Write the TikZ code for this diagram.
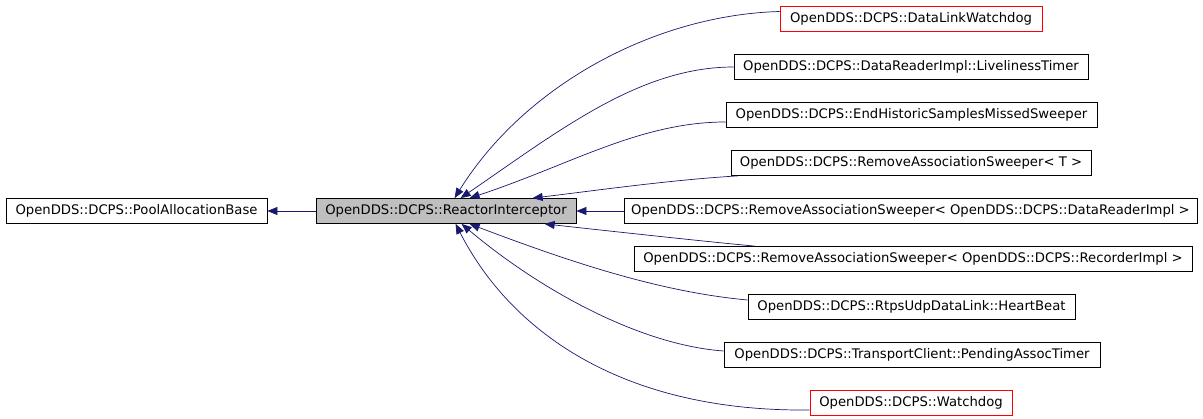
\documentclass[tikz,border=0pt]{standalone}
\usepackage{fontspec}
\setmainfont{DejaVu Sans}
\usetikzlibrary{arrows.meta,positioning}
\definecolor{edgeblue}{HTML}{191970}

\begin{document}
\begin{tikzpicture}[x=1pt,y=-1pt,
  cls/.style={draw,inner sep=0pt,minimum height=25pt,line width=0.8pt,font=\fontsize{13.2}{15}\selectfont},
  inh/.style={draw=edgeblue,line width=0.7pt,{Triangle[length=10pt,width=8pt,fill=edgeblue]}-}] %pixel coordinates, y downwards

\fill[white] (0,0) rectangle (1203,419);
\useasboundingbox (0,0) rectangle (1203,419);

\node (pab) at (136.5,211) [cls,minimum width=261pt] {OpenDDS::DCPS::PoolAllocationBase};
\node (ri) at (446,211) [cls,minimum width=260pt,fill=gray!50] {OpenDDS::DCPS::ReactorInterceptor};
\node (dlw) at (911,18.5) [cls,minimum width=262pt,draw=red] {OpenDDS::DCPS::DataLinkWatchdog};
\node (lt) at (911,67) [cls,minimum width=354pt] {OpenDDS::DCPS::DataReaderImpl::LivelinessTimer};
\node (ehs) at (911.5,115) [cls,minimum width=371pt] {OpenDDS::DCPS::EndHistoricSamplesMissedSweeper};
\node (rast) at (911,163) [cls,minimum width=360pt] {OpenDDS::DCPS::RemoveAssociationSweeper< T >};
\node (rasd) at (910.5,211) [cls,minimum width=573pt] {OpenDDS::DCPS::RemoveAssociationSweeper< OpenDDS::DCPS::DataReaderImpl >};
\node (rasr) at (913,259) [cls,minimum width=558pt] {OpenDDS::DCPS::RemoveAssociationSweeper< OpenDDS::DCPS::RecorderImpl >};
\node (hb) at (911.5,307) [cls,minimum width=327pt] {OpenDDS::DCPS::RtpsUdpDataLink::HeartBeat};
\node (pat) at (912,355) [cls,minimum width=376pt] {OpenDDS::DCPS::TransportClient::PendingAssocTimer};
\node (wd) at (911,402.5) [cls,minimum width=202pt,draw=red] {OpenDDS::DCPS::Watchdog};

\draw[inh] (pab.east) -- (ri.west);
\draw[inh] ([xshift=139pt]ri.north west) .. controls (525,85) and (655,15) .. ([yshift=7pt]dlw.west);
\draw[inh] ([xshift=145pt]ri.north west) .. controls (560,130) and (640,67) .. (lt.west);
\draw[inh] ([xshift=154pt]ri.north west) .. controls (570,165) and (640,122) .. ([yshift=-7pt]ehs.west);
\draw[inh] ([xshift=217pt]ri.north west) .. controls (600,190) and (670,180) .. ([xshift=7pt]rast.south west);
\draw[inh] (ri.east) -- (rasd.west);
\draw[inh] ([xshift=229pt]ri.south west) .. controls (600,230) and (700,241) .. ([xshift=121pt]rasr.north west);
\draw[inh] ([xshift=154pt]ri.south west) .. controls (570,262) and (660,292) .. ([yshift=7pt]hb.west);
\draw[inh] ([xshift=146pt]ri.south west) .. controls (540,290) and (640,345) .. ([yshift=4pt]pat.west);
\draw[inh] ([xshift=140pt]ri.south west) .. controls (510,330) and (620,412) .. ([yshift=-7.5pt]wd.west);
\end{tikzpicture}
\end{document}
